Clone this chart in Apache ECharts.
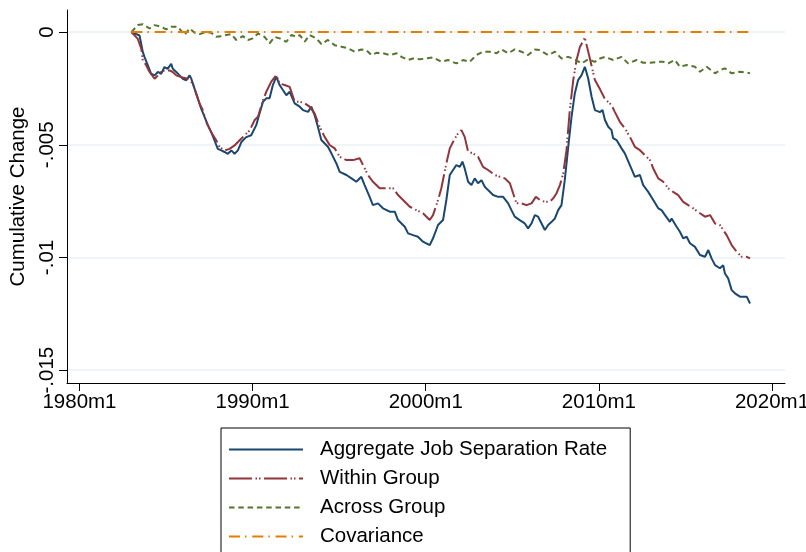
<!DOCTYPE html>
<html>
<head>
<meta charset="utf-8">
<script src="https://cdn.jsdelivr.net/npm/echarts@6/dist/echarts.min.js"></script>
<style>
  html, body { margin: 0; padding: 0; background: #ffffff; }
  #chart { width: 806px; height: 552px; }
</style>
</head>
<body>
<div id="chart"></div>
<script>
// Cumulative change in the job separation rate and its decomposition.
// Each point is [decimal year, cumulative change].
const aggregateSeparation = [
  [1983.00, 0], [1983.47, -0.00015], [1983.66, -0.00089], [1983.76, -0.00111], [1983.95, -0.00148],
  [1984.14, -0.00185], [1984.34, -0.00192], [1984.53, -0.00177], [1984.72, -0.00185], [1984.91, -0.00155],
  [1985.09, -0.00163], [1985.30, -0.00141], [1985.39, -0.00163], [1985.59, -0.00177], [1985.78, -0.00192],
  [1985.97, -0.00207], [1986.17, -0.00214], [1986.36, -0.00192], [1986.46, -0.00207], [1986.65, -0.00252],
  [1986.84, -0.00296], [1987.03, -0.00340], [1987.23, -0.00377], [1987.42, -0.00414], [1987.61, -0.00444],
  [1987.80, -0.00481], [1987.99, -0.00518], [1988.19, -0.00525], [1988.38, -0.00532], [1988.57, -0.00540],
  [1988.77, -0.00525], [1988.96, -0.00540], [1989.15, -0.00525], [1989.35, -0.00488], [1989.63, -0.00466],
  [1989.92, -0.00458], [1990.21, -0.00413], [1990.40, -0.00361], [1990.60, -0.00309], [1990.79, -0.00294],
  [1990.98, -0.00294], [1991.17, -0.00235], [1991.37, -0.00198], [1991.56, -0.00235], [1991.75, -0.00257],
  [1991.95, -0.00280], [1992.14, -0.00265], [1992.43, -0.00316], [1992.72, -0.00331], [1992.91, -0.00346],
  [1993.20, -0.00354], [1993.39, -0.00331], [1993.58, -0.00368], [1993.77, -0.00420], [1993.97, -0.00479],
  [1994.35, -0.00509], [1994.55, -0.00538], [1994.84, -0.00583], [1995.03, -0.00620], [1995.42, -0.00634],
  [1995.71, -0.00649], [1995.99, -0.00664], [1996.28, -0.00642], [1996.47, -0.00679], [1996.76, -0.00731],
  [1996.95, -0.00768], [1997.24, -0.00760], [1997.53, -0.00782], [1997.92, -0.00797], [1998.21, -0.00797],
  [1998.40, -0.00834], [1998.60, -0.00849], [1998.79, -0.00864], [1998.98, -0.00893], [1999.27, -0.00901],
  [1999.55, -0.00908], [1999.84, -0.00930], [2000.23, -0.00945], [2000.42, -0.00915], [2000.71, -0.00856],
  [2001.00, -0.00834], [2001.19, -0.00745], [2001.39, -0.00634], [2001.58, -0.00612], [2001.77, -0.00590],
  [2001.97, -0.00598], [2002.12, -0.00575], [2002.25, -0.00605], [2002.45, -0.00664], [2002.64, -0.00679],
  [2002.83, -0.00649], [2003.02, -0.00671], [2003.22, -0.00657], [2003.41, -0.00686], [2003.60, -0.00701],
  [2003.89, -0.00723], [2004.18, -0.00731], [2004.47, -0.00731], [2004.76, -0.00760], [2004.95, -0.00790],
  [2005.14, -0.00819], [2005.43, -0.00834], [2005.72, -0.00849], [2005.91, -0.00871], [2006.11, -0.00849],
  [2006.30, -0.00812], [2006.49, -0.00819], [2006.69, -0.00849], [2006.88, -0.00878], [2007.07, -0.00856],
  [2007.27, -0.00842], [2007.46, -0.00827], [2007.65, -0.00790], [2007.84, -0.00768], [2008.03, -0.00657],
  [2008.23, -0.00509], [2008.42, -0.00376], [2008.61, -0.00272], [2008.80, -0.00213], [2009.00, -0.00191],
  [2009.19, -0.00154], [2009.38, -0.00205], [2009.58, -0.00287], [2009.77, -0.00346], [2010.06, -0.00355],
  [2010.21, -0.00346], [2010.35, -0.00390], [2010.54, -0.00420], [2010.73, -0.00435], [2010.82, -0.00470],
  [2011.02, -0.00479], [2011.31, -0.00516], [2011.50, -0.00538], [2011.79, -0.00590], [2012.08, -0.00642],
  [2012.37, -0.00634], [2012.56, -0.00679], [2012.85, -0.00709], [2013.14, -0.00745], [2013.43, -0.00782],
  [2013.62, -0.00790], [2013.82, -0.00812], [2014.10, -0.00842], [2014.20, -0.00827], [2014.49, -0.00864],
  [2014.68, -0.00886], [2014.87, -0.00915], [2015.07, -0.00908], [2015.26, -0.00937], [2015.55, -0.00953],
  [2015.84, -0.00989], [2016.13, -0.00997], [2016.32, -0.00967], [2016.51, -0.01004], [2016.71, -0.01034],
  [2016.99, -0.01048], [2017.18, -0.01034], [2017.28, -0.01071], [2017.47, -0.01093], [2017.67, -0.01145],
  [2017.86, -0.01159], [2018.15, -0.01174], [2018.34, -0.01174], [2018.54, -0.01174], [2018.73, -0.01204]
];

const withinGroup = [
  [1983.00, 0], [1983.37, -0.00030], [1983.57, -0.00074], [1983.66, -0.00126], [1983.86, -0.00148],
  [1984.05, -0.00177], [1984.34, -0.00207], [1984.53, -0.00192], [1984.72, -0.00177], [1984.91, -0.00170],
  [1985.20, -0.00170], [1985.39, -0.00177], [1985.59, -0.00192], [1985.88, -0.00200], [1986.26, -0.00207],
  [1986.55, -0.00229], [1986.75, -0.00274], [1986.94, -0.00318], [1987.13, -0.00347], [1987.32, -0.00399],
  [1987.61, -0.00444], [1987.90, -0.00480], [1988.09, -0.00510], [1988.38, -0.00525], [1988.67, -0.00518],
  [1988.96, -0.00503], [1989.25, -0.00480], [1989.54, -0.00458], [1989.83, -0.00436], [1990.12, -0.00390],
  [1990.31, -0.00376], [1990.60, -0.00302], [1990.79, -0.00265], [1991.08, -0.00220], [1991.37, -0.00191],
  [1991.56, -0.00228], [1991.85, -0.00235], [1992.14, -0.00243], [1992.43, -0.00309], [1992.72, -0.00309],
  [1993.01, -0.00316], [1993.29, -0.00331], [1993.58, -0.00361], [1993.87, -0.00420], [1994.16, -0.00465],
  [1994.45, -0.00501], [1994.74, -0.00516], [1995.03, -0.00553], [1995.42, -0.00568], [1995.80, -0.00568],
  [1996.18, -0.00560], [1996.38, -0.00590], [1996.66, -0.00634], [1996.95, -0.00664], [1997.34, -0.00693],
  [1997.73, -0.00693], [1998.11, -0.00693], [1998.40, -0.00723], [1998.69, -0.00745], [1999.08, -0.00775],
  [1999.46, -0.00790], [1999.84, -0.00804], [2000.23, -0.00834], [2000.42, -0.00812], [2000.71, -0.00745],
  [2000.90, -0.00693], [2001.19, -0.00583], [2001.39, -0.00516], [2001.68, -0.00472], [2001.87, -0.00449],
  [2002.06, -0.00435], [2002.25, -0.00465], [2002.45, -0.00531], [2002.73, -0.00538], [2003.02, -0.00553],
  [2003.31, -0.00598], [2003.60, -0.00612], [2003.99, -0.00634], [2004.28, -0.00642], [2004.57, -0.00649],
  [2004.86, -0.00671], [2005.05, -0.00716], [2005.24, -0.00760], [2005.53, -0.00760], [2005.82, -0.00768],
  [2006.11, -0.00760], [2006.36, -0.00731], [2006.59, -0.00745], [2006.88, -0.00753], [2007.17, -0.00753],
  [2007.36, -0.00738], [2007.55, -0.00716], [2007.75, -0.00679], [2007.94, -0.00627], [2008.13, -0.00524],
  [2008.32, -0.00346], [2008.52, -0.00213], [2008.71, -0.00124], [2008.90, -0.00067], [2009.19, -0.00025],
  [2009.48, -0.00117], [2009.77, -0.00213], [2010.06, -0.00253], [2010.35, -0.00297], [2010.73, -0.00324],
  [2010.92, -0.00354], [2011.21, -0.00398], [2011.50, -0.00427], [2011.79, -0.00465], [2012.08, -0.00509],
  [2012.37, -0.00524], [2012.66, -0.00546], [2012.95, -0.00568], [2013.14, -0.00605], [2013.43, -0.00649],
  [2013.72, -0.00664], [2014.00, -0.00693], [2014.29, -0.00709], [2014.58, -0.00723], [2014.87, -0.00753],
  [2015.16, -0.00768], [2015.45, -0.00782], [2015.84, -0.00804], [2016.13, -0.00819], [2016.42, -0.00812],
  [2016.71, -0.00849], [2016.99, -0.00856], [2017.18, -0.00878], [2017.38, -0.00901], [2017.67, -0.00945],
  [2017.96, -0.00975], [2018.25, -0.00997], [2018.54, -0.00997], [2018.73, -0.01004]
];

const acrossGroup = [
  [1983.00, 0], [1983.37, 0.00031], [1983.66, 0.00035], [1984.05, 0.00016], [1984.34, 0.00031],
  [1984.72, 0.00024], [1985.01, 0.00012], [1985.30, 0.00024], [1985.68, 0.00024], [1986.07, -0.00013],
  [1986.36, 0.00016], [1986.65, -0.00003], [1986.94, -0.00009], [1987.32, 0.00001], [1987.61, -0.00003],
  [1987.90, -0.00021], [1988.19, -0.00018], [1988.48, -0.00013], [1988.77, -0.00009], [1989.06, -0.00035],
  [1989.44, -0.00018], [1989.73, -0.00035], [1990.02, -0.00028], [1990.31, -0.00006], [1990.69, -0.00021],
  [1990.98, -0.00050], [1991.27, -0.00021], [1991.56, -0.00028], [1991.95, -0.00043], [1992.24, -0.00013],
  [1992.53, -0.00021], [1992.72, -0.00013], [1993.01, -0.00043], [1993.29, -0.00013], [1993.68, -0.00028],
  [1993.97, -0.00053], [1994.35, -0.00035], [1994.74, -0.00058], [1995.13, -0.00065], [1995.51, -0.00072],
  [1995.90, -0.00087], [1996.28, -0.00077], [1996.57, -0.00080], [1996.86, -0.00102], [1997.15, -0.00092],
  [1997.53, -0.00094], [1997.92, -0.00102], [1998.31, -0.00094], [1998.60, -0.00110], [1998.98, -0.00124],
  [1999.27, -0.00117], [1999.65, -0.00121], [2000.04, -0.00117], [2000.42, -0.00112], [2000.91, -0.00132],
  [2001.29, -0.00124], [2001.77, -0.00139], [2002.16, -0.00124], [2002.54, -0.00132], [2002.93, -0.00102],
  [2003.31, -0.00087], [2003.70, -0.00087], [2004.09, -0.00094], [2004.37, -0.00077], [2004.76, -0.00094],
  [2005.14, -0.00077], [2005.53, -0.00087], [2005.91, -0.00102], [2006.30, -0.00077], [2006.59, -0.00080],
  [2007.07, -0.00102], [2007.46, -0.00087], [2007.84, -0.00117], [2008.23, -0.00110], [2008.61, -0.00121],
  [2009.00, -0.00139], [2009.38, -0.00121], [2009.77, -0.00132], [2010.06, -0.00117], [2010.35, -0.00110],
  [2010.83, -0.00124], [2011.31, -0.00110], [2011.69, -0.00139], [2012.18, -0.00124], [2012.56, -0.00136],
  [2012.95, -0.00136], [2013.43, -0.00132], [2013.72, -0.00132], [2014.01, -0.00139], [2014.39, -0.00124],
  [2014.68, -0.00154], [2015.07, -0.00146], [2015.55, -0.00154], [2015.84, -0.00176], [2016.23, -0.00154],
  [2016.71, -0.00183], [2016.99, -0.00169], [2017.28, -0.00161], [2017.67, -0.00183], [2018.15, -0.00176],
  [2018.63, -0.00181], [2018.73, -0.00183]
];

const covariance = [
  [1983.00, 0], [1986.00, 0], [1990.00, 0], [1994.00, 0], [1998.00, 0],
  [2002.00, 0], [2006.00, 0], [2010.00, 0], [2014.00, 0], [2018.73, 0]
];

const seriesNames = ['Aggregate Job Separation Rate', 'Within Group', 'Across Group', 'Covariance'];
const xTicks = [1980, 1990, 2000, 2010, 2020];
const yTicks = [0, -0.005, -0.01, -0.015];

const FONT = 'Liberation Sans, Arial, sans-serif';
const GRID_COLOR = '#eaf2f3';

function yLabel(v) {
  if (v === 0) return '0';
  const s = String(Math.abs(v)).replace(/^0/, '');
  return (v < 0 ? '-' : '') + s;
}

const chart = echarts.init(document.getElementById('chart'), null, { renderer: 'canvas' });

function lineSeries(name, data, color, dash) {
  return {
    name: name,
    type: 'line',
    data: data,
    showSymbol: false,
    symbol: 'none',
    smooth: false,
    clip: true,
    lineStyle: { color: color, width: 2, type: dash },
    itemStyle: { color: color },
    emphasis: { disabled: true },
    z: 3
  };
}

chart.setOption({
  animation: false,
  backgroundColor: '#ffffff',
  grid: { left: 67, right: 21, top: 10, bottom: 169, containLabel: false, outerBoundsMode: 'none' },
  xAxis: {
    type: 'value',
    min: 1979.28,
    max: 2020.75,
    axisLine: { show: true, onZero: false, lineStyle: { color: '#000', width: 1 } },
    axisTick: { show: true, length: 8, customValues: xTicks, lineStyle: { color: '#000', width: 1 } },
    axisLabel: {
      customValues: xTicks,
      formatter: function (v) { return Math.round(v) + 'm1'; },
      fontFamily: FONT, fontSize: 20.5, color: '#000', margin: 9
    },
    splitLine: { show: false }
  },
  yAxis: {
    type: 'value',
    min: -0.01557,
    max: 0.00098,
    name: 'Cumulative Change',
    nameLocation: 'middle',
    nameRotate: 90,
    nameGap: 37,
    nameTextStyle: { fontFamily: FONT, fontSize: 20.5, color: '#000' },
    axisLine: { show: true, onZero: false, lineStyle: { color: '#000', width: 1 } },
    axisTick: { show: true, length: 8, customValues: yTicks, lineStyle: { color: '#000', width: 1 } },
    axisLabel: {
      customValues: yTicks,
      rotate: 90,
      formatter: yLabel,
      fontFamily: FONT, fontSize: 20.5, color: '#000', margin: 9
    },
    splitLine: { show: true, lineStyle: { color: GRID_COLOR, width: 1.6 } }
  },
  legend: {
    orient: 'vertical',
    left: 221,
    top: 428,
    height: 130,
    padding: [7, 23, 14, 7],
    itemWidth: 74,
    itemHeight: 14,
    itemGap: 0,
    selectedMode: false,
    borderColor: '#000',
    borderWidth: 1,
    borderRadius: 0,
    backgroundColor: '#ffffff',
    itemStyle: { opacity: 0 },
    textStyle: { fontFamily: FONT, fontSize: 20.5, color: '#000', lineHeight: 29, padding: [0, 0, 0, 12] },
    data: seriesNames
  },
  series: [
    lineSeries(seriesNames[0], aggregateSeparation, '#1a476f', 'solid'),
    lineSeries(seriesNames[1], withinGroup, '#90353b', [23, 3.5, 1.5, 2, 1.5, 3.5]),
    lineSeries(seriesNames[2], acrossGroup, '#55752f', [5.5, 3.8]),
    lineSeries(seriesNames[3], covariance, '#e37e00', [11, 5, 1.5, 5.8])
  ]
});
</script>
</body>
</html>
